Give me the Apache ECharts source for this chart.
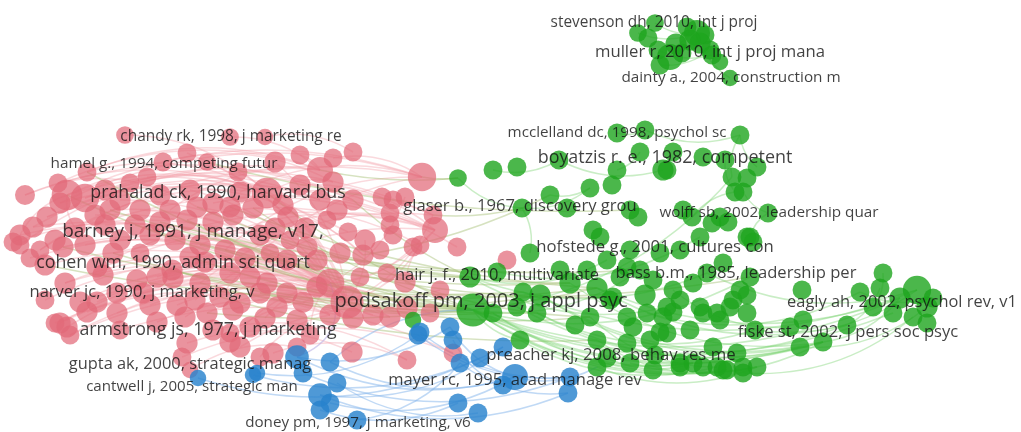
<!DOCTYPE html>
<html>
<head>
<meta charset="utf-8">
<title>co-citation map</title>
<script src="https://cdn.jsdelivr.net/npm/echarts@6/dist/echarts.min.js"></script>
<style>
  html, body { margin: 0; padding: 0; background: #fff; }
  #main { width: 1021px; height: 432px; }
</style>
</head>
<body>
<div id="main"></div>
<script type="text/javascript">
// map coordinates [x, y, weight], one array per cluster
var redNodes = [
  [125,135,15],[230,137,15],[265,137,14],[187,153,16],[163,162,16],[207,162,15],[353,152,16],[333,158,16],[320,170,22],[238,172,16],[87,172,16],[147,177,16],[58,183,16],[130,183,16],[333,182,18],[422,177,24],
  [25,195,17],[67,195,26],[85,198,24],[60,203,18],[110,210,18],[140,210,18],[170,210,18],[197,207,18],[213,203,18],[267,193,26],[253,208,18],[283,205,18],[230,207,18],[320,200,18],[353,200,18],[382,197,16],[393,200,16],[405,197,16],[337,210,18],[390,213,16],[433,215,16],[288,217,18],[327,220,16],
  [47,217,18],[33,227,18],[20,235,18],[13,242,16],[160,222,18],[187,220,18],[213,222,18],[233,215,18],[348,232,16],[390,225,16],[393,235,16],[435,230,22],[105,225,18],[120,240,18],[260,235,18],[290,240,16],[380,250,16],[420,245,16],[457,247,16],
  [20,245,16],[40,250,16],[63,247,18],[113,253,18],[140,253,16],[307,247,18],[270,253,16],[340,253,18],[363,255,18],[317,260,18],[287,260,18],[97,267,18],[103,275,18],[172,270,18],[157,277,18],[230,273,18],[250,277,18],[360,277,16],[387,273,16],[413,247,16],[507,260,16],
  [65,283,18],[137,280,18],[173,278,18],[200,283,18],[267,283,18],[330,283,24],[317,287,18],[117,293,18],[143,293,18],[260,293,18],[287,293,18],[220,297,18],[80,302,18],[97,302,18],[240,303,18],[277,307,18],[347,302,28],[177,305,18],[87,312,18],[117,313,18],[207,313,18],[233,310,18],[330,315,18],[353,318,18],[390,317,18],[407,308,18],[430,313,16],[297,320,18],[185,317,18],[157,322,18],[373,315,18],
  [60,323,18],[67,327,18],[55,323,16],[213,330,18],[70,335,16],[250,327,18],[230,333,16],[230,342,18],[187,343,18],[240,347,18],[297,347,16],[273,353,18],[182,357,16],[352,352,18],[407,360,16],[453,353,16],[260,357,16],[190,370,14],
  [150,235,18],[175,240,18],[200,245,18],[225,250,18],[245,258,18],[160,195,18],[190,190,18],[300,185,18],[120,200,18],[95,215,18],[75,228,18],[85,245,18],[150,305,18],[195,300,18],[265,318,18],[303,302,18],[310,335,16],[120,330,16],[45,265,18],[30,258,16],[55,240,18],[135,225,18],[205,262,18],[190,257,18],[275,228,18],[305,228,18],[365,240,18],[405,282,18],[440,290,16],[240,192,18],[300,155,16],[275,162,18],[105,190,18],[45,300,16]
];
var greenNodes = [
  [638,33,15],[655,23,15],[687,27,16],[697,33,22],[705,35,16],[700,43,18],[710,50,16],[712,55,16],[670,57,22],[658,50,16],[660,65,16],[682,53,16],[730,78,14],
  [458,178,15],[493,170,16],[517,167,16],[522,208,16],[550,195,16],[567,208,16],[617,133,16],[645,130,16],[617,170,16],[590,188,16],[612,185,16],[630,210,16],[638,217,16],[559,160,16],[640,152,16],[663,170,18],[673,152,16],[740,135,16],[667,170,16],[703,157,16],[725,160,16],[757,167,16],[732,177,16],[747,178,16],[735,192,16],[743,192,16],[683,210,16],[692,217,16],[712,223,16],[728,222,16],[720,217,16],[768,213,16],[750,237,16],[753,242,16],
  [600,237,16],[530,253,16],[470,277,18],[497,272,16],[473,310,28],[540,295,18],[523,292,16],[597,288,18],[613,297,16],[620,277,16],[627,267,16],[640,270,16],[653,280,16],[673,290,16],[693,283,16],[707,273,16],[723,263,16],[740,290,16],[750,277,16],[733,300,16],[627,317,16],[647,313,16],[667,307,16],[633,327,16],[650,340,16],[667,333,16],[627,343,16],[597,367,16],[607,358,16],[680,363,16],[703,367,16],[723,370,16],[713,347,16],[717,313,16],[700,307,16],[743,367,16],[653,370,16],[630,363,16],[520,340,16],[590,317,16],[570,283,18],[587,270,16],[607,260,16],[630,250,16],[660,253,16],[680,250,16],[700,237,16],[593,230,16],[747,237,16],[537,313,16],[493,313,16],[517,307,16],[597,340,16],[413,320,14],
  [883,273,16],[880,288,16],[860,292,16],[900,298,18],[917,290,24],[933,298,16],[927,307,18],[913,317,16],[927,323,16],[893,313,16],[873,307,16],[847,325,16],[823,342,16],[803,320,16],[800,347,16],[790,327,16],[755,330,16],[802,290,16],[747,313,16],[730,307,16],[720,320,16],[703,313,16],[747,295,16],[757,367,16],[743,373,16],[727,370,16],[717,367,16],[693,363,16],[680,367,16],[737,353,16],[673,312,16],[660,332,16],[663,317,16],
  [690,40,18],[676,44,18],[648,38,16],[720,62,14],[610,300,16],[645,295,18],[680,300,16],[560,270,16],[575,325,16],[655,355,16],[690,330,16]
];
var blueNodes = [
  [297,357,20],[303,373,16],[257,373,14],[330,362,16],[337,383,16],[320,395,20],[330,403,16],[320,410,16],[357,420,16],[418,335,16],[450,327,16],[453,340,16],[420,332,16],[460,363,16],[480,358,16],[503,347,16],[515,377,22],[503,385,16],[570,377,16],[568,393,16],[458,403,16],[478,413,16],[198,378,14],[253,375,14]
];

// links between nodes, by cluster index pairs
var redLinks = [
  [17,25],[17,15],[18,29],[10,8],[12,23],[16,30],[19,47],[20,84],[21,95],[22,8],[23,84],[25,95],[25,14],[26,66],[28,36],[40,95],[41,84],[42,67],[39,29],[51,85],[52,101],[60,95],[61,84],[62,65],[69,95],[70,102],[79,84],[86,95],[91,101],[97,105],[110,95],[111,84],[114,103],[113,124],[118,123],[122,125],[127,120],[117,84],[99,95],[90,15],[82,36],[73,95],[71,84],[0,25],[1,8],[3,95],[4,14],[5,84],[9,95],[13,30],[11,66],[24,57],[44,56],[53,95],[64,84],[88,104],[96,95],[107,84],[108,102],[116,95],[119,105],[121,124],[126,101],[2,6],[7,15],[33,84],[36,95],[50,84],[56,95],[77,84],[103,95],[109,84],[58,8],[59,15],[87,95],[92,84],[98,95],[100,95],[112,101],[80,103],[81,95],[72,84],
  [16,25],[17,50],[18,36],[19,15],[12,8],[10,25],[39,50],[40,25],[41,17],[59,25],[60,84],[69,50],[79,95],[91,84],[110,84],[114,95],[128,95],[129,84],[130,50],[131,15],[132,84],[133,25],[134,95],[135,50],[136,84],[137,95],[138,17],[139,84],[140,95],[141,50],[142,84],[143,95],[144,84],[145,125],[146,95],[147,84],[148,50],[149,95],[150,84],[151,95],[152,50],[153,84],[154,95],[155,50],[156,84],[157,15],[158,8],[159,95],[160,25],[161,84]
];
var redGreenLinks = [
  [25,51],[17,51],[23,49],[28,54],[44,51],[20,50],[60,53],[84,51],[95,52],[15,13],[8,13],[36,16],[30,49],[71,51],[53,87],[61,96],[88,51],[99,54],[82,97],[64,55],[10,51],[43,58],[90,99],[66,17],[95,86],[84,65],[26,51],[5,24],[131,51],[146,54],[151,51],[130,87],[149,49],[155,86]
];
var greenLinks = [
  [51,112],[51,113],[51,115],[51,104],[51,65],[51,58],[51,85],[52,113],[53,105],[49,89],[49,62],[87,113],[54,112],[51,128],[51,126],[96,117],[97,124],[98,113],[50,93],[13,16],[14,26],[16,22],[17,22],[19,20],[20,30],[30,35],[30,34],[33,37],[37,40],[38,44],[44,45],[26,28],[21,27],[0,3],[1,3],[3,8],[9,7],[3,12],[10,6],[2,5],[113,104],[112,102],[115,107],[111,101],[103,106],[117,105],[125,108],[60,116],[62,105],[68,103],[75,128],[99,126],[86,127],[84,113],[74,124],[48,16],[51,35],[51,124],[52,115],[85,127],[96,113],[97,128],[51,110],[54,104],[49,69]
];
var blueLinks = [
  [0,16],[1,18],[3,16],[5,19],[4,21],[6,16],[7,20],[2,9],[22,14],[23,15],[0,10],[8,13],[12,18],[10,16],[11,17],[13,19],[5,15],[9,18]
];

// labels: text, x, y, weight
var labels = [
  ['stevenson dh, 2010, int j proj', 654, 23, 3.4],
  ['muller r, 2010, int j proj mana', 710, 52, 4.7],
  ['dainty a., 2004, construction m', 731, 78, 3.3],
  ['chandy rk, 1998, j marketing re', 231, 137, 3.4],
  ['mcclelland dc, 1998, psychol sc', 617, 133, 3.2],
  ['boyatzis r. e., 1982, competent', 665, 158, 5.9],
  ['hamel g., 1994, competing futur', 164, 164, 3.3],
  ['prahalad ck, 1990, harvard bus', 218, 193, 5.8],
  ['glaser b., 1967, discovery grou', 520, 206, 4.6],
  ['wolff sb, 2002, leadership quar', 769, 213, 3.3],
  ['barney j, 1991, j manage, v17,', 193, 232, 7],
  ['hofstede g., 2001, cultures con', 655, 247, 4.7],
  ['cohen wm, 1990, admin sci quart', 173, 263, 5.8],
  ['hair j. f., 2010, multivariate', 497, 275, 4.5],
  ['bass b.m., 1985, leadership per', 736, 273, 4.6],
  ['narver jc, 1990, j marketing, v', 142, 292, 4.5],
  ['podsakoff pm, 2003, j appl psyc', 481, 301, 8],
  ['eagly ah, 2002, psychol rev, v1', 902, 302, 4.4],
  ['armstrong js, 1977, j marketing', 208, 330, 5.8],
  ['fiske st, 2002, j pers soc psyc', 848, 332, 4.6],
  ['gupta ak, 2000, strategic manag', 190, 364, 4.4],
  ['preacher kj, 2008, behav res me', 611, 355, 4.8],
  ['cantwell j, 2005, strategic man', 192, 387, 3.1],
  ['mayer rc, 1995, acad manage rev', 515, 380, 4.5],
  ['doney pm, 1997, j marketing, v6', 358, 423, 3.2]
];

var clusterColors = ['rgba(226,106,120,0.72)', 'rgba(30,165,30,0.8)', 'rgba(40,130,205,0.82)'];

var nodes = [];
function addNodes(list, prefix, cat) {
  list.forEach(function (n, i) {
    nodes.push({ name: prefix + i, value: [n[0], n[1]], symbolSize: n[2] * 1.18, category: cat });
  });
}
addNodes(redNodes, 'r', 0);
addNodes(greenNodes, 'g', 1);
addNodes(blueNodes, 'b', 2);

var links = [];
function addLinks(list, a, b, color, curve, list1, list2) {
  list.forEach(function (p) {
    if (p[0] >= list1.length || p[1] >= list2.length) return;
    links.push({ source: a + p[0], target: b + p[1], lineStyle: { color: color, curveness: curve } });
  });
}
addLinks(redLinks, 'r', 'r', 'rgba(242,160,170,0.4)', 0.2, redNodes, redNodes);
addLinks(redGreenLinks, 'r', 'g', 'rgba(165,190,115,0.45)', -0.08, redNodes, greenNodes);
addLinks(greenLinks, 'g', 'g', 'rgba(120,210,110,0.4)', -0.2, greenNodes, greenNodes);
addLinks(blueLinks, 'b', 'b', 'rgba(130,180,235,0.5)', -0.2, blueNodes, blueNodes);
links.push({ source: 'b0', target: 'r84', lineStyle: { color: 'rgba(180,170,225,0.55)', curveness: -0.5 } });
links.push({ source: 'b3', target: 'g51', lineStyle: { color: 'rgba(130,180,235,0.5)', curveness: 0.2 } });
links.push({ source: 'b16', target: 'g74', lineStyle: { color: 'rgba(130,180,235,0.5)', curveness: -0.2 } });

var labelData = labels.map(function (l) {
  return { name: l[0], value: [l[1], l[2]], label: { fontSize: 12 + l[3] } };
});

var myChart = echarts.init(document.getElementById('main'));
var option = {
  animation: false,
  grid: { left: 0, right: 0, top: 0, bottom: 0 },
  xAxis: { type: 'value', min: 0, max: 1021, show: false },
  yAxis: { type: 'value', min: 0, max: 432, inverse: true, show: false },
  series: [
    {
      type: 'graph',
      coordinateSystem: 'cartesian2d',
      layout: 'none',
      categories: [
        { name: 'red', itemStyle: { color: clusterColors[0] } },
        { name: 'green', itemStyle: { color: clusterColors[1] } },
        { name: 'blue', itemStyle: { color: clusterColors[2] } }
      ],
      data: nodes,
      links: links,
      label: { show: false },
      lineStyle: { width: 1.5, opacity: 1 },
      emphasis: { disabled: true }
    },
    {
      type: 'scatter',
      z: 10,
      symbolSize: 1,
      itemStyle: { color: 'rgba(0,0,0,0)' },
      data: labelData,
      label: {
        show: true,
        position: 'inside',
        formatter: '{b}',
        color: '#111',
        fontFamily: 'Open Sans'
      },
      emphasis: { disabled: true }
    }
  ]
};
myChart.setOption(option);
</script>
</body>
</html>
